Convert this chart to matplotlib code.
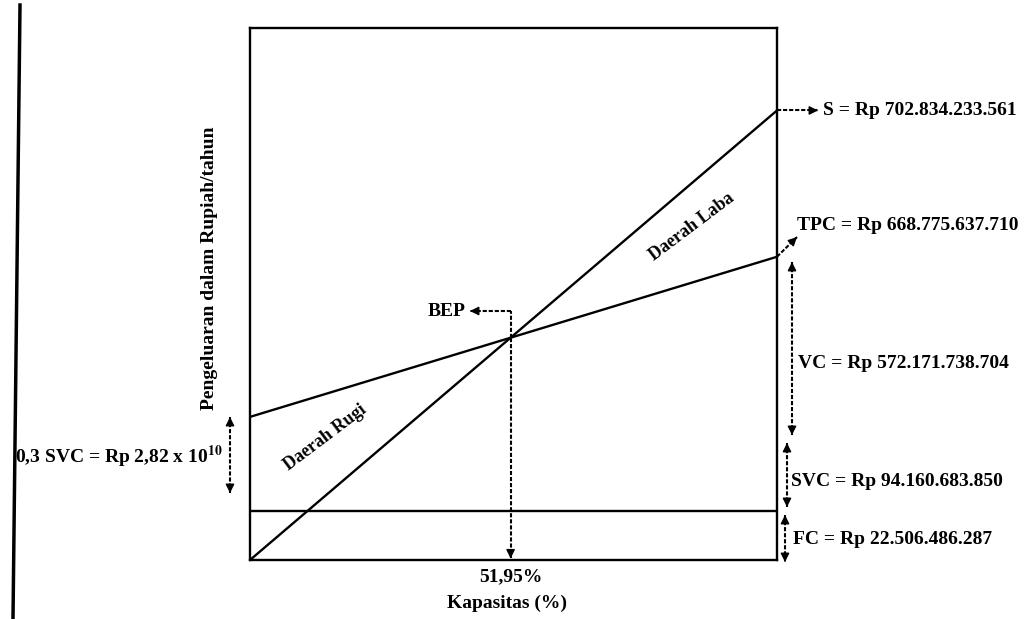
import matplotlib.pyplot as plt
import numpy as np

plt.rcParams['font.family'] = ['Liberation Serif', 'DejaVu Serif']
plt.rcParams['font.weight'] = 'bold'
plt.rcParams['mathtext.fontset'] = 'stix'

# schematic chart: capacity in %, cost axis in chart units (0-100), not to scale
cap_start, cap_end = 0, 100
fc_level = 9.2          # fixed cost line height
tpc_start = 26.9        # total production cost at 0 %
tpc_end = 57.0          # total production cost at 100 %
s_end = 84.5            # sales at 100 %

bep_label = '51,95%'
s_label = 'S = Rp 702.834.233.561'
tpc_label = 'TPC = Rp 668.775.637.710'
vc_label = 'VC = Rp 572.171.738.704'
svc_label = 'SVC = Rp 94.160.683.850'
fc_label = 'FC = Rp 22.506.486.287'
svc03_label = r'0,3 SVC = Rp 2,82 x 10$^{\mathbf{10}}$'

W, H = 1031, 619
fig = plt.figure(figsize=(W / 100, H / 100), dpi=100)
ax_l, ax_r, ax_t, ax_b = 250, 777, 28, 560
ax = fig.add_axes([ax_l / W, 1 - ax_b / H, (ax_r - ax_l) / W, (ax_b - ax_t) / H])
ax.set_xlim(0, 100)
ax.set_ylim(0, 100)
ax.set_xticks([])
ax.set_yticks([])
for sp in ax.spines.values():
    sp.set_linewidth(1.7)

# lines
ax.plot([cap_start, cap_end], [fc_level, fc_level], color='k', lw=1.7)
ax.plot([cap_start, cap_end], [tpc_start, tpc_end], color='k', lw=1.7)
ax.plot([cap_start, cap_end], [0, s_end], color='k', lw=1.7)

# break even point from the two lines
s_slope = s_end / 100
tpc_slope = (tpc_end - tpc_start) / 100
bep_x = tpc_start / (s_slope - tpc_slope)
bep_y = s_slope * bep_x


def px(x, y):
    # figure pixel -> data units of the axes
    return ((x - ax_l) / (ax_r - ax_l) * 100, (ax_b - y) / (ax_b - ax_t) * 100)


dash = (0, (2.0, 0.9))


def darrow(p0, p1, head0=False, head1=True):
    ax.plot([p0[0], p1[0]], [p0[1], p1[1]], color='k', lw=1.5, ls=dash, clip_on=False)
    for tip, base, on in ((p1, p0, head1), (p0, p1, head0)):
        if not on:
            continue
        v = np.array(tip) - np.array(base)
        v = v / np.linalg.norm(v) * 0.9
        ax.annotate('', xy=tip, xytext=(tip[0] - v[0], tip[1] - v[1]),
                    arrowprops=dict(arrowstyle='-|>', color='k', lw=1, mutation_scale=13),
                    annotation_clip=False)


# BEP markers
top_y = px(0, 311)[1]
ax.plot([bep_x, bep_x], [bep_y, top_y], color='k', lw=1.5, ls=dash)
darrow((bep_x, top_y), (px(470, 0)[0], top_y))
darrow((bep_x, bep_y), (bep_x, 0.3))
ax.text(px(466, 0)[0], top_y, 'BEP', ha='right', va='center', fontsize=14)
ax.text(bep_x, px(0, 577)[1], bep_label, ha='center', va='center', fontsize=14, clip_on=False)

# region labels
ax.text(*px(325, 438), 'Daerah Rugi', rotation=37, ha='center', va='center', fontsize=13)
ax.text(*px(692, 227), 'Daerah Laba', rotation=37, ha='center', va='center', fontsize=13)

# right side annotations
s_tip = px(818, 0)[0]
darrow((100, s_end), (s_tip, s_end))
ax.text(px(823, 0)[0], s_end, s_label, ha='left', va='center', fontsize=14, clip_on=False)
darrow((100, tpc_end), px(797, 237))
ax.text(*px(797, 226), tpc_label, ha='left', va='center', fontsize=14, clip_on=False)
darrow(px(792, 262), px(792, 435), head0=True)
ax.text(*px(798, 363), vc_label, ha='left', va='center', fontsize=14, clip_on=False)
darrow(px(787, 443), px(787, 507), head0=True)
ax.text(*px(791, 482), svc_label, ha='left', va='center', fontsize=14, clip_on=False)
darrow(px(785, 515), px(785, 562), head0=True)
ax.text(*px(793, 540), fc_label, ha='left', va='center', fontsize=14, clip_on=False)

# left side annotation
darrow(px(230, 417), px(230, 493), head0=True)
ax.text(*px(15, 457), svc03_label, ha='left', va='center', fontsize=14, clip_on=False)

# axis titles
fig.text(210 / W, 1 - 268 / H, 'Pengeluaran dalam Rupiah/tahun', rotation=90,
         ha='center', va='center', fontsize=14)
fig.text(507 / W, 1 - 603 / H, 'Kapasitas (%)', ha='center', va='center', fontsize=14)

# thick page edge line on the left of the scan
fig.add_artist(plt.Line2D([20 / W, 13 / W], [1 - 5 / H, 0], color='k', lw=2.5))

fig.savefig('out.png', dpi=100)
